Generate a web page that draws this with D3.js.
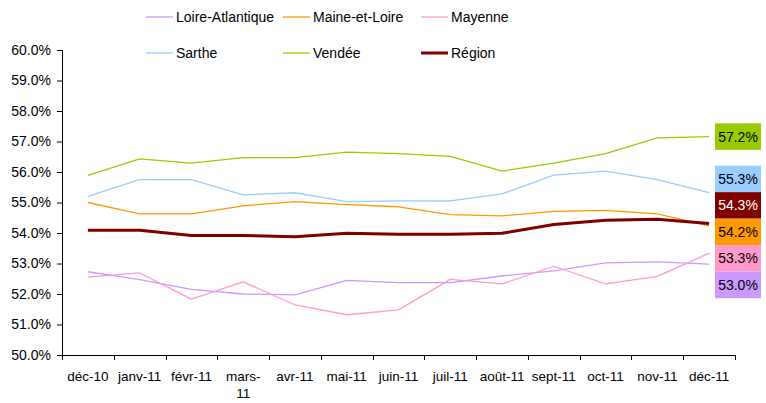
<!DOCTYPE html>
<html>
<head>
<meta charset="utf-8">
<script src="https://cdn.jsdelivr.net/npm/d3@7"></script>
<style>
  body { margin: 0; background: #fff; }
  text { font-family: "Liberation Sans", Arial, sans-serif; fill: #000; }
</style>
</head>
<body>
<div id="chart"></div>
<script>
// months on the x axis
var months = ["déc-10", "janv-11", "févr-11", "mars-11", "avr-11", "mai-11", "juin-11",
  "juil-11", "août-11", "sept-11", "oct-11", "nov-11", "déc-11"];

// rates in %
var loireAtlantique = [52.73, 52.47, 52.15, 52.00, 51.97, 52.45, 52.37, 52.37, 52.59, 52.76, 53.02, 53.05, 52.98];
var maineEtLoire = [55.00, 54.63, 54.63, 54.89, 55.03, 54.93, 54.86, 54.60, 54.56, 54.71, 54.74, 54.63, 54.23];
var mayenne = [52.55, 52.69, 51.83, 52.40, 51.64, 51.32, 51.48, 52.48, 52.33, 52.91, 52.33, 52.58, 53.34];
var sarthe = [55.20, 55.75, 55.75, 55.25, 55.32, 55.03, 55.05, 55.05, 55.28, 55.90, 56.03, 55.75, 55.32];
var vendee = [55.89, 56.43, 56.29, 56.47, 56.47, 56.65, 56.60, 56.51, 56.03, 56.29, 56.60, 57.12, 57.16];
var region = [54.09, 54.09, 53.92, 53.92, 53.88, 53.99, 53.96, 53.96, 53.99, 54.28, 54.42, 54.45, 54.31];

var yTicks = [50, 51, 52, 53, 54, 55, 56, 57, 58, 59, 60];

var series = [
  { name: "Loire-Atlantique", values: loireAtlantique, color: "#CC99FF", width: 1.3 },
  { name: "Maine-et-Loire", values: maineEtLoire, color: "#FF9900", width: 1.3 },
  { name: "Mayenne", values: mayenne, color: "#FF99CC", width: 1.3 },
  { name: "Sarthe", values: sarthe, color: "#99CCFF", width: 1.3 },
  { name: "Vendée", values: vendee, color: "#99CC00", width: 1.3 },
  { name: "Région", values: region, color: "#800000", width: 3, labelText: "#fff" }
];

var W = 766, H = 403;
var svg = d3.select("#chart").append("svg")
    .attr("width", W)
    .attr("height", H);

var x = d3.scaleBand().domain(months).range([62, 735]);
var y = d3.scaleLinear().domain([50, 60]).range([355, 50]);
var cx = function (m) { return x(m) + x.bandwidth() / 2; };

// y axis
var yAxis = svg.append("g")
    .attr("transform", "translate(62,0)")
    .call(d3.axisLeft(y).tickValues(yTicks).tickSize(5).tickPadding(6)
      .tickFormat(function (d) { return d.toFixed(1) + "%"; }));
yAxis.selectAll("line, path").attr("stroke", "#000");
yAxis.selectAll("text").style("font-size", "14px").attr("fill", "#000");
yAxis.select(".domain").attr("d", "M0.5,50V355");

// x axis: ticks between the categories
var xg = svg.append("g");
xg.append("line")
    .attr("x1", 62).attr("x2", 735)
    .attr("y1", 355.5).attr("y2", 355.5)
    .attr("stroke", "#000");
xg.selectAll(".xtick")
    .data(months.map(function (m) { return x(m); }).concat([x.range()[1]]))
    .enter().append("line")
    .attr("x1", function (d) { return Math.round(d) + 0.5; })
    .attr("x2", function (d) { return Math.round(d) + 0.5; })
    .attr("y1", 355).attr("y2", 360)
    .attr("stroke", "#000");

var xl = xg.selectAll(".xlab")
    .data(months)
    .enter().append("text")
    .attr("x", cx)
    .attr("y", 381)
    .style("font-size", "13.5px")
    .style("text-anchor", "middle")
    .text(function (d) { return d; });

// wrap labels that are too wide for their band (split after the hyphen)
xl.each(function (d) {
  var t = d3.select(this);
  if (this.getComputedTextLength() > x.bandwidth() * 0.92) {
    var parts = d.split("-");
    t.text(null);
    t.append("tspan").attr("x", cx(d)).text(parts[0] + "-");
    t.append("tspan").attr("x", cx(d)).attr("dy", 17).text(parts[1]);
  }
});

// lines
var line = d3.line()
    .x(function (d, i) { return cx(months[i]); })
    .y(function (d) { return y(d); });

svg.selectAll(".series")
    .data(series)
    .enter().append("path")
    .attr("d", function (s) { return line(s.values); })
    .attr("fill", "none")
    .attr("stroke", function (s) { return s.color; })
    .attr("stroke-width", function (s) { return s.width; })
    .attr("stroke-linejoin", "round");

// end labels, stacked so they don't overlap
var boxH = 26.5, boxW = 46, boxX = 715;
var labels = series.map(function (s) {
  var v = s.values[s.values.length - 1];
  return { s: s, v: v, target: y(v), c: y(v) };
}).sort(function (a, b) { return a.target - b.target; });

var groups = labels.map(function (l) { return [l]; });
var merged = true;
function center(g) { return d3.mean(g, function (l) { return l.target; }); }
while (merged) {
  merged = false;
  for (var i = 0; i < groups.length - 1; i++) {
    var a = groups[i], b = groups[i + 1];
    var aBottom = center(a) + a.length * boxH / 2;
    var bTop = center(b) - b.length * boxH / 2;
    if (aBottom > bTop) {
      groups.splice(i, 2, a.concat(b));
      merged = true;
      break;
    }
  }
}
groups.forEach(function (g) {
  var top = center(g) - g.length * boxH / 2;
  g.forEach(function (l, k) { l.c = top + k * boxH + boxH / 2; });
});

var lab = svg.selectAll(".endlab")
    .data(labels)
    .enter().append("g")
    .attr("transform", function (l) { return "translate(" + boxX + "," + (l.c - boxH / 2) + ")"; });
lab.append("rect")
    .attr("width", boxW)
    .attr("height", boxH)
    .attr("fill", function (l) { return l.s.color; });
lab.append("text")
    .attr("x", boxW / 2)
    .attr("y", boxH / 2)
    .attr("dy", "0.35em")
    .style("font-size", "14px")
    .style("text-anchor", "middle")
    .attr("fill", function (l) { return l.s.labelText || "#000"; })
    .style("fill", function (l) { return l.s.labelText || "#000"; })
    .text(function (l) { return l.v.toFixed(1) + "%"; });

// legend, 3 per row
var legX = [146, 283, 421], legY = [17, 53];
var leg = svg.selectAll(".leg")
    .data(series)
    .enter().append("g")
    .attr("transform", function (s, i) {
      return "translate(" + legX[i % 3] + "," + legY[Math.floor(i / 3)] + ")";
    });
leg.append("line")
    .attr("x1", 0).attr("x2", 27)
    .attr("y1", 0).attr("y2", 0)
    .attr("stroke", function (s) { return s.color; })
    .attr("stroke-width", function (s) { return s.width; });
leg.append("text")
    .attr("x", 30)
    .attr("dy", "0.35em")
    .style("font-size", "14px")
    .text(function (s) { return s.name; });
</script>
</body>
</html>
